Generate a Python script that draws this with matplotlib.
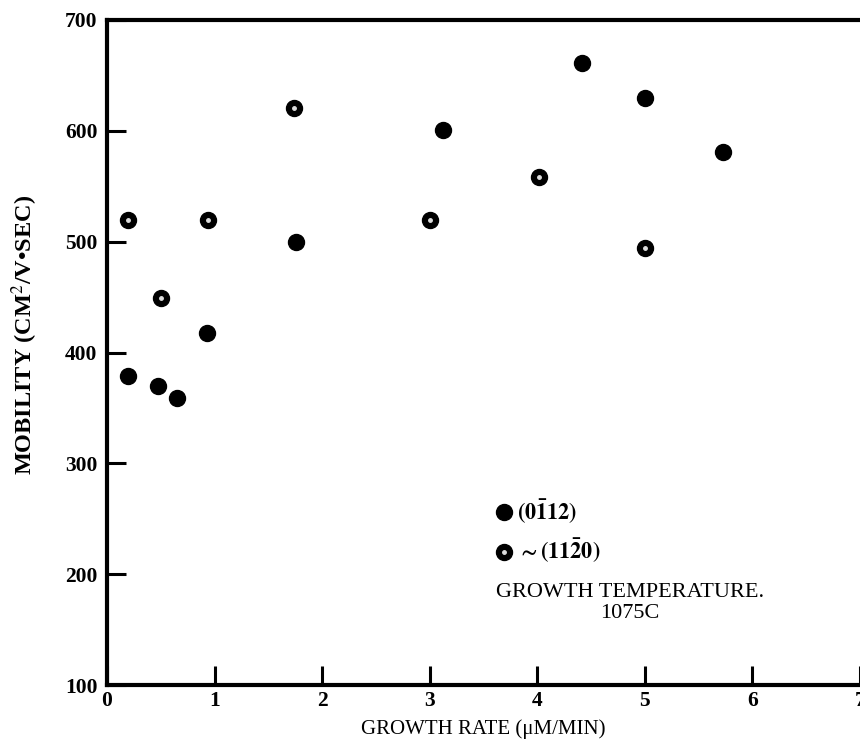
import numpy as np
import matplotlib
matplotlib.use("Agg")
import matplotlib.pyplot as plt
from matplotlib.legend_handler import HandlerTuple

plt.rcParams['font.family'] = ['Liberation Serif', 'DejaVu Serif']
plt.rcParams['mathtext.fontset'] = 'stix'

# (01-12) orientation, solid dots
x_a = np.array([0.2, 0.47, 0.65, 0.93, 1.76, 3.12, 4.42, 5.0, 5.73])
y_a = np.array([379, 370, 359, 418, 500, 601, 661, 630, 581])

# ~(11-20) orientation, dots with a light centre
x_b = np.array([0.2, 0.5, 0.94, 1.74, 3.0, 4.02, 5.0])
y_b = np.array([520, 449, 520, 621, 520, 558, 494])

xticks = [0, 1, 2, 3, 4, 5, 6, 7]
yticks = [100, 200, 300, 400, 500, 600, 700]

fig = plt.figure(figsize=(8.6, 7.49), dpi=100)
ax = fig.add_axes([0.1244, 0.0854, 0.8756, 0.8879])

ha, = ax.plot(x_a, y_a, 'o', color='black', ms=11.5, ls='none', clip_on=False)
hb, = ax.plot(x_b, y_b, 'o', color='black', ms=11.5, ls='none', clip_on=False)
hb2, = ax.plot(x_b, y_b, 'o', color='#dddddd', ms=2.5, ls='none', clip_on=False)

ax.set_xlim(0, 7)
ax.set_ylim(100, 700)
ax.set_xticks(xticks)
ax.set_yticks(yticks)
ax.tick_params(axis='both', direction='in', length=14, width=2.2, labelsize=15.5)
ax.tick_params(axis='x', pad=4)
ax.tick_params(axis='y', pad=7)
for lab in ax.get_xticklabels() + ax.get_yticklabels():
    lab.set_fontweight('bold')

for s in ['left', 'bottom', 'top']:
    ax.spines[s].set_linewidth(3)
ax.spines['right'].set_visible(False)

ax.set_xlabel('GROWTH RATE (\u03bcM/MIN)', fontsize=15, labelpad=6)
fig.text(0.029, 0.553, 'MOBILITY (CM$^{2}$/V\u2022SEC)', rotation=90,
         fontsize=17.5, fontweight='bold', ha='center', va='center')

leg = ax.legend([ha, (hb, hb2)],
                [r'$\mathbf{(0\bar{1}12)}$', r'$\mathbf{\sim(11\bar{2}0)}$'],
                handler_map={tuple: HandlerTuple(ndivide=1, pad=0)},
                loc='upper left', bbox_to_anchor=(0.518, 0.282),
                frameon=False, fontsize=16, handlelength=0.6,
                handletextpad=0.3, labelspacing=0.5, borderpad=0,
                borderaxespad=0, markerscale=1.0)

ax.text(0.694, 0.123, 'GROWTH TEMPERATURE.\n1075C', transform=ax.transAxes,
        ha='center', va='center', fontsize=16, linespacing=1.15)

fig.savefig('out.png', dpi=100)
